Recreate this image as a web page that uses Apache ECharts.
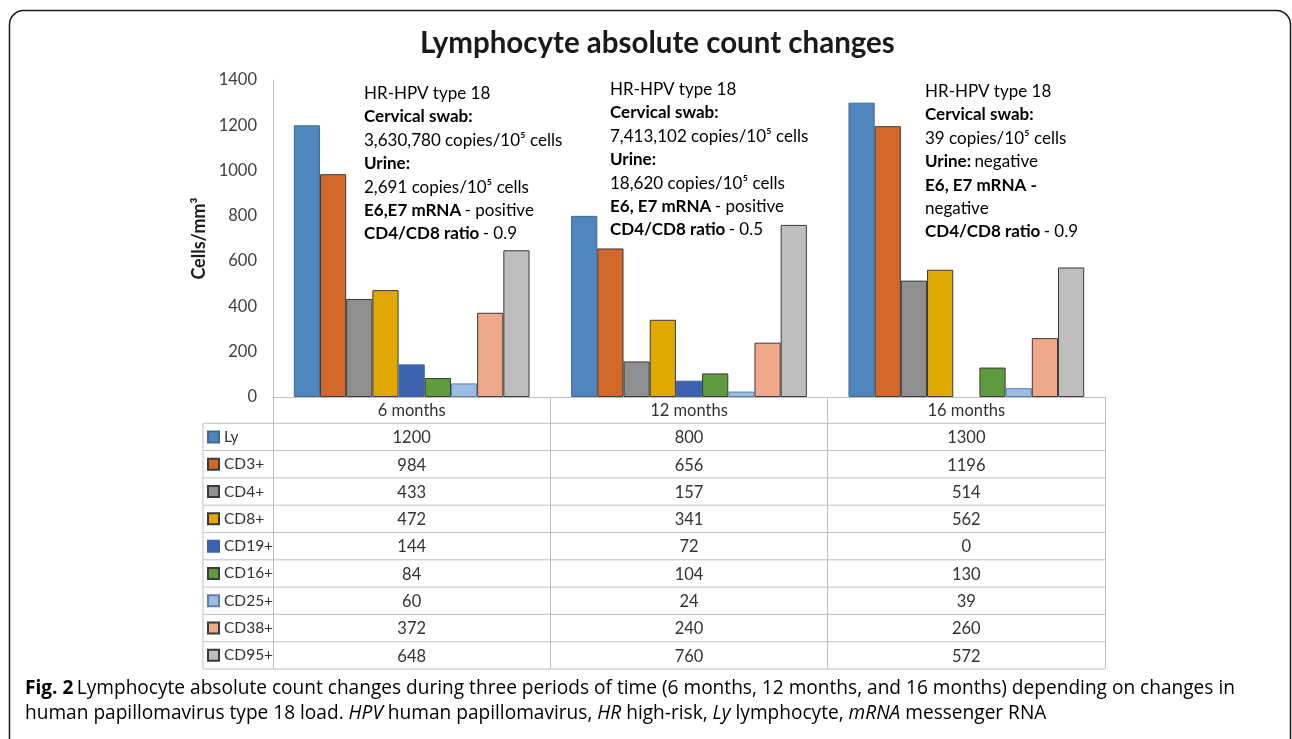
<!DOCTYPE html>
<html>
<head>
<meta charset="utf-8">
<style>
  html, body { margin: 0; padding: 0; background: #fff; }
  #chart { width: 1292px; height: 739px; }
</style>
<script src="https://cdn.jsdelivr.net/npm/echarts@6/dist/echarts.min.js"></script>
</head>
<body>
<div id="chart"></div>
<script>
// categories and series values
const periods = ['6 months', '12 months', '16 months']
const seriesNames = ['Ly', 'CD3+', 'CD4+', 'CD8+', 'CD19+', 'CD16+', 'CD25+', 'CD38+', 'CD95+']
const ly = [1200, 800, 1300]
const cd3 = [984, 656, 1196]
const cd4 = [433, 157, 514]
const cd8 = [472, 341, 562]
const cd19 = [144, 72, 0]
const cd16 = [84, 104, 130]
const cd25 = [60, 24, 39]
const cd38 = [372, 240, 260]
const cd95 = [648, 760, 572]
const yTicks = [0, 200, 400, 600, 800, 1000, 1200, 1400]

const seriesValues = [ly, cd3, cd4, cd8, cd19, cd16, cd25, cd38, cd95]
const colors = ['#4f86be', '#d2692a', '#8f8f8f', '#e0a800', '#3a62ae', '#5e9a3e', '#9bbde3', '#f0a88a', '#bebebe']
const borders = ['#3d6a99', '#3a3a3a', '#3a3a3a', '#3a3a3a', '#3a62ae', '#3a3a3a', '#5f7fa8', '#3a3a3a', '#3a3a3a']

// text blocks above each period
const notes = [
  ['{n|HR-HPV type 18}', '{b|Cervical swab:}', '{n|3,630,780 copies/10⁵ cells}', '{b|Urine:}',
   '{n|2,691 copies/10⁵ cells}', '{b|E6,E7 mRNA} {n|- positive}', '{b|CD4/CD8 ratio} {n|- 0.9}'],
  ['{n|HR-HPV type 18}', '{b|Cervical swab:}', '{n|7,413,102 copies/10⁵ cells}', '{b|Urine:}',
   '{n|18,620 copies/10⁵ cells}', '{b|E6, E7 mRNA} {n|- positive}', '{b|CD4/CD8 ratio} {n|- 0.5}'],
  ['{n|HR-HPV type 18}', '{b|Cervical swab:}', '{n|39 copies/10⁵ cells}', '{b|Urine:} {n|negative}',
   '{b|E6, E7 mRNA -}', '{n|negative}', '{b|CD4/CD8 ratio} {n|- 0.9}'],
]

const FONT = 'Lato, "Open Sans", sans-serif'
const CAP_FONT = '"Open Sans", sans-serif'
const gridLeft = 273, gridRight = 1105, gridTop = 80, gridBottom = 397
const rowH = 27.3
const noteRich = {
  n: { fontFamily: FONT, fontSize: 17, color: '#1a1a1a', lineHeight: 23.4 },
  b: { fontFamily: FONT, fontSize: 17, fontWeight: 'bold', color: '#1a1a1a', lineHeight: 23.4 },
}
const notePos = [[364, 85], [610, 81], [925, 83]]

const chart = echarts.init(document.getElementById('chart'))

// table row separators
const rowLines = []
for (let k = 0; k <= seriesNames.length; k++) {
  const y = gridBottom + 26.3 + k * rowH
  rowLines.push({
    type: 'line',
    shape: { x1: 203, y1: y, x2: gridRight, y2: y },
    style: { stroke: '#bfbfbf', lineWidth: 1 },
  })
}
rowLines.push({
  type: 'line',
  shape: { x1: 203, y1: gridBottom + 26.3, x2: 203, y2: gridBottom + 26.3 + seriesNames.length * rowH },
  style: { stroke: '#bfbfbf', lineWidth: 1 },
})

chart.setOption({
  animation: false,
  title: {
    text: 'Lymphocyte absolute count changes',
    left: 415,
    top: 23,
    textStyle: { fontFamily: FONT, fontSize: 29.5, fontWeight: 'bold', color: '#1a1a1a' },
  },
  legend: {
    orient: 'vertical',
    left: 207,
    top: gridBottom + 26.3,
    padding: 0,
    itemGap: 0,
    itemWidth: 11,
    itemHeight: 11,
    icon: 'rect',
    selectedMode: false,
    data: seriesNames,
    textStyle: { fontFamily: FONT, fontSize: 15.5, color: '#333', lineHeight: rowH },
  },
  grid: { left: gridLeft, right: 1292 - gridRight, top: gridTop, bottom: 739 - gridBottom, containLabel: false },
  xAxis: {
    type: 'category',
    data: periods,
    axisLine: { show: true, lineStyle: { color: '#bfbfbf', width: 1 } },
    axisTick: { show: true, length: 26.3 + seriesNames.length * rowH, lineStyle: { color: '#bfbfbf' } },
    axisLabel: {
      margin: 0,
      fontFamily: FONT,
      fontSize: 16.5,
      color: '#333',
      lineHeight: rowH,
      formatter: (v, i) => [v].concat(seriesValues.map(s => s[i])).join('\n'),
    },
  },
  yAxis: {
    type: 'value',
    min: yTicks[0],
    max: yTicks[yTicks.length - 1],
    interval: 200,
    name: 'Cells/mm³',
    nameLocation: 'middle',
    nameGap: 58,
    nameTextStyle: { fontFamily: FONT, fontSize: 18, fontWeight: 'bold', color: '#1a1a1a' },
    axisLine: { show: true, lineStyle: { color: '#bfbfbf' } },
    axisTick: { show: false },
    splitLine: { show: false },
    axisLabel: { margin: 16, fontFamily: FONT, fontSize: 16.5, color: '#404040', formatter: v => String(v) },
  },
  series: seriesNames.map((name, i) => ({
    name,
    type: 'bar',
    data: seriesValues[i].map(v => (v === 0 ? { value: v, itemStyle: { borderWidth: 0, opacity: 0 } } : v)),
    barGap: '0%',
    barCategoryGap: '15%',
    itemStyle: { color: colors[i], borderColor: borders[i], borderWidth: 1 },
  })),
  graphic: [
    {
      type: 'rect',
      shape: { x: 9.5, y: 10.5, width: 1281, height: 800, r: 14 },
      style: { fill: 'none', stroke: '#1a1a1a', lineWidth: 1.5 },
      silent: true,
    },
    ...rowLines,
    ...notes.map((lines, i) => ({
      type: 'text',
      left: notePos[i][0],
      top: notePos[i][1],
      style: { text: lines.join('\n'), rich: noteRich },
    })),
    {
      type: 'text',
      left: 25,
      top: 679,
      style: {
        text: '{fb|Fig. 2} {c|Lymphocyte absolute count changes during three periods of time (6 months, 12 months, and 16 months) depending on changes in}\n' +
          '{c|human papillomavirus type 18 load. }{ci|HPV}{c| human papillomavirus, }{ci|HR}{c| high-risk, }{ci|Ly}{c| lymphocyte, }{ci|mRNA}{c| messenger RNA}',
        rich: {
          fb: { fontFamily: CAP_FONT, fontSize: 19.1, fontWeight: 'bold', color: '#222', lineHeight: 25 },
          c: { fontFamily: CAP_FONT, fontSize: 19.1, color: '#222', lineHeight: 25 },
          ci: { fontFamily: CAP_FONT, fontSize: 19.1, fontStyle: 'italic', color: '#222', lineHeight: 25 },
        },
      },
    },
  ],
})
</script>
</body>
</html>
